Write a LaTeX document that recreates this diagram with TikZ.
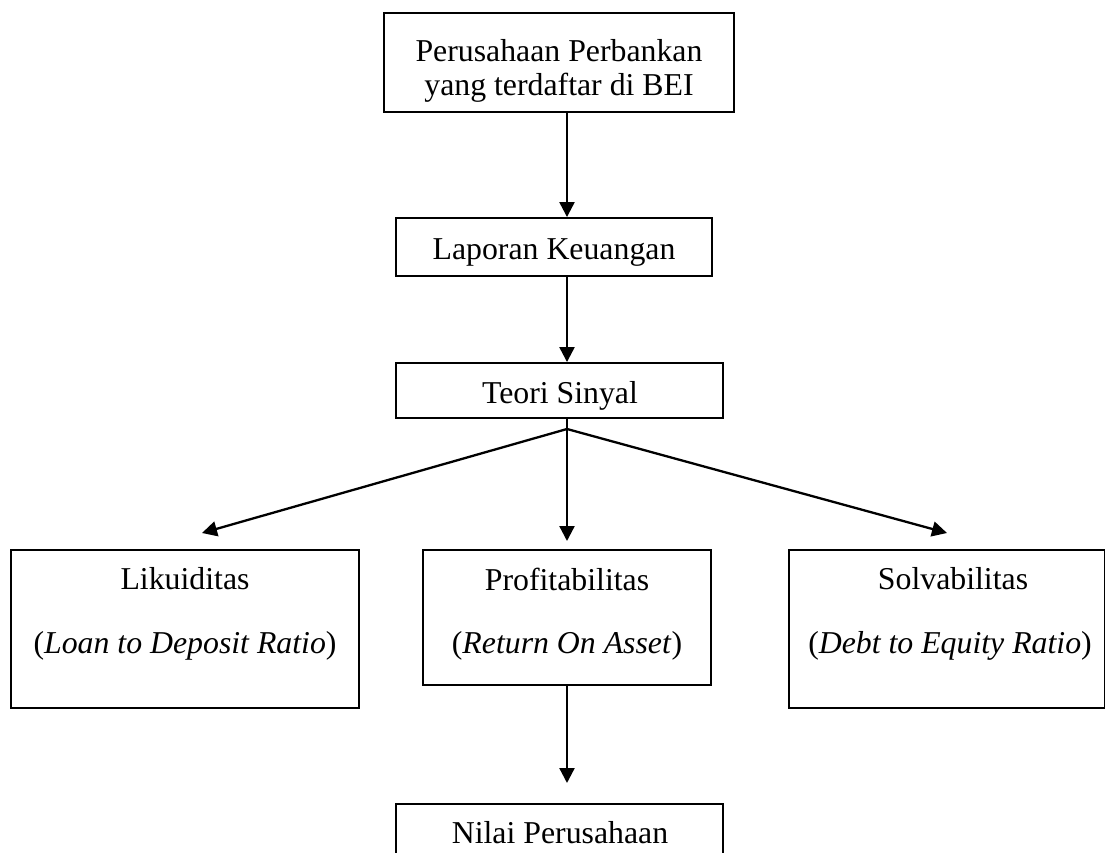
\documentclass[tikz,border=0pt]{standalone}
\usepackage{fontspec}
\setmainfont{Liberation Serif}
\usetikzlibrary{arrows.meta}
\begin{document}
\begin{tikzpicture}[x=1pt,y=-1pt,
  box/.style={draw=black,line width=1.9pt,rectangle,inner sep=0pt},
  txt/.style={inner sep=0pt,align=center,font=\fontsize{31.8}{34}\selectfont},
  arr/.style={line width=2.3pt,-{Triangle[length=15pt,width=15pt]}}]
\useasboundingbox (0,0) rectangle (1105,853);
\clip (0,0) rectangle (1105,853);
% boxes
\node[box,minimum width=350pt,minimum height=99pt] (bank) at (559,62.5) {};
\node[txt] (banktxt) at (559,71) {Perusahaan Perbankan\\yang terdaftar di BEI};
\node[box,minimum width=316pt,minimum height=58pt] (lap) at (554,247) {};
\node[txt] (laptxt) at (554,253) {Laporan Keuangan};
\node[box,minimum width=327pt,minimum height=55pt] (teori) at (559.5,390.5) {};
\node[txt] (teoritxt) at (560,396) {Teori Sinyal};
\node[box,minimum width=348pt,minimum height=158pt] (lik) at (185,629) {};
\node[txt] (liktxt1) at (185,579) {Likuiditas};
\node[txt] (liktxt2) at (185,646) {(\textit{Loan to Deposit Ratio})};
\node[box,minimum width=288pt,minimum height=135pt] (prof) at (567,617.5) {};
\node[txt] (proftxt1) at (567,579) {Profitabilitas};
\node[txt] (proftxt2) at (567,646) {(\textit{Return On Asset})};
\node[box,minimum width=316pt,minimum height=158pt] (solv) at (947,629) {};
\node[txt] (solvtxt1) at (953,579) {Solvabilitas};
\node[txt] (solvtxt2) at (950,646) {(\textit{Debt to Equity Ratio})};
\node[box,minimum width=327pt,minimum height=70pt] (nilai) at (559.5,839) {};
\node[txt] (nilaitxt) at (560,833) {Nilai Perusahaan};
% connector coordinates
\coordinate (fan) at (567,429);
\coordinate (tipL) at (202,533);
\coordinate (tipR) at (947,533);
\coordinate (tipM) at (567,541);
% connectors
\draw[arr] (bank.south -| fan) -- (lap.north -| fan);
\draw[arr] (lap.south -| fan) -- (teori.north -| fan);
\draw[line width=2.3pt] (teori.south -| fan) -- (fan);
\draw[arr] (fan) -- (tipL);
\draw[arr] (fan) -- (tipR);
\draw[arr] (fan) -- (tipM);
\draw[arr] (prof.south -| fan) -- (567,783);
\end{tikzpicture}
\end{document}
